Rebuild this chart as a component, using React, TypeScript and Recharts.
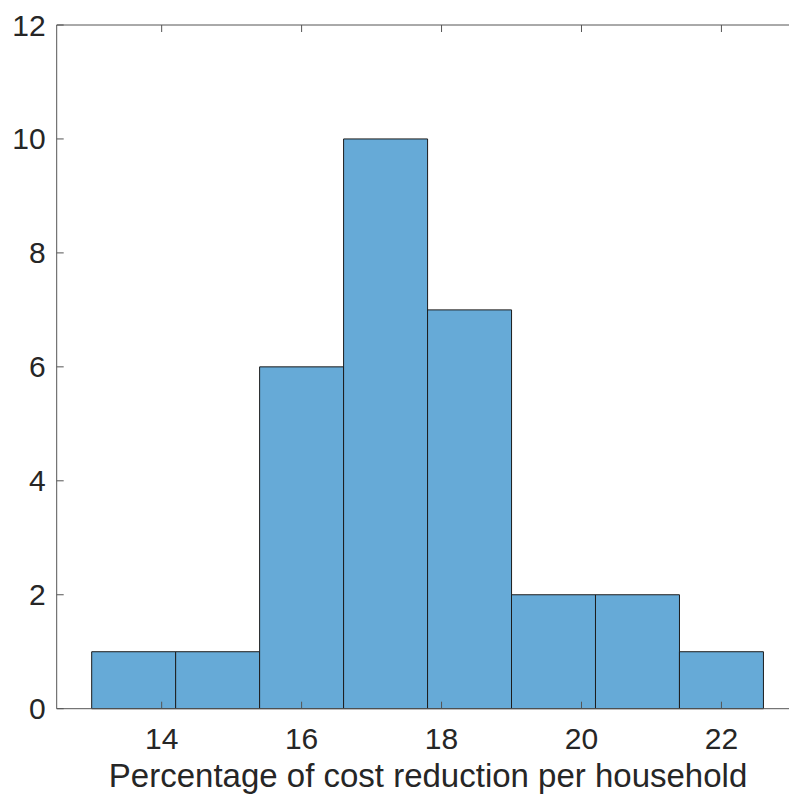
import React from 'react';
import { ComposedChart, Bar, XAxis, YAxis } from 'recharts';

// histogram bins (centres of 1.2-wide bins) and counts
const binCenters = [13.6, 14.8, 16.0, 17.2, 18.4, 19.6, 20.8, 22.0];
const counts = [1, 1, 6, 10, 7, 2, 2, 1];
const xTicks = [14, 16, 18, 20, 22];
const yTicks = [0, 2, 4, 6, 8, 10, 12];
const xLabel = 'Percentage of cost reduction per household';

const data = binCenters.map((c, i) => ({ x: c, count: counts[i] }));

const FONT = '"Liberation Sans", Arial, Helvetica, sans-serif';
const AXIS = '#555555';
const TEXT = '#262626';
const TICK_LEN = 7;

const BottomTick = (props: any) => {
  const { x, y, payload } = props;
  return (
    <g>
      <line x1={x} y1={y} x2={x} y2={y - TICK_LEN} stroke={AXIS} strokeWidth={1} />
      <text x={x} y={y + 40} textAnchor="middle" fill={TEXT} fontSize={30} fontFamily={FONT}>
        {payload.value}
      </text>
    </g>
  );
};

const TopTick = (props: any) => {
  const { x, y } = props;
  return <line x1={x} y1={y} x2={x} y2={y + TICK_LEN} stroke={AXIS} strokeWidth={1} />;
};

const LeftTick = (props: any) => {
  const { x, y, payload } = props;
  return (
    <g>
      <line x1={x} y1={y} x2={x + TICK_LEN} y2={y} stroke={AXIS} strokeWidth={1} />
      <text x={x - 11} y={y} dy="0.35em" textAnchor="end" fill={TEXT} fontSize={30} fontFamily={FONT}>
        {payload.value}
      </text>
    </g>
  );
};

const AxisLabel = (props: any) => {
  const vb = props.viewBox || {};
  return (
    <text
      x={vb.x + vb.width / 2 + 4}
      y={vb.y + 78}
      textAnchor="middle"
      fill={TEXT}
      fontSize={33}
      fontFamily={FONT}
    >
      {xLabel}
    </text>
  );
};

export default function App() {
  return (
    <div style={{ position: 'absolute', left: 0, top: 0, width: 789, height: 795, overflow: 'hidden', background: '#fff' }}>
      <ComposedChart
        width={800}
        height={795}
        data={data}
        margin={{ top: 24, right: 8.6, bottom: 0.3, left: 0 }}
        barCategoryGap={0}
        barGap={0}
      >
        <XAxis
          dataKey="x"
          type="number"
          domain={[12.5, 23]}
          ticks={xTicks}
          height={86}
          tickSize={0}
          tickMargin={0}
          tick={<BottomTick />}
          axisLine={{ stroke: AXIS, strokeWidth: 1 }}
          label={{ content: <AxisLabel /> }}
        />
        <XAxis
          xAxisId="top"
          orientation="top"
          dataKey="x"
          type="number"
          domain={[12.5, 23]}
          ticks={xTicks}
          height={1}
          tickSize={0}
          tickMargin={0}
          tick={<TopTick />}
          axisLine={{ stroke: AXIS, strokeWidth: 1 }}
        />
        <YAxis
          type="number"
          domain={[0, 12]}
          ticks={yTicks}
          width={56.7}
          tickSize={0}
          tickMargin={0}
          tick={<LeftTick />}
          axisLine={{ stroke: AXIS, strokeWidth: 1 }}
        />
        <Bar
          dataKey="count"
          fill="#66AAD7"
          stroke="#1c1c1c"
          strokeWidth={1}
          isAnimationActive={false}
        />
      </ComposedChart>
    </div>
  );
}
